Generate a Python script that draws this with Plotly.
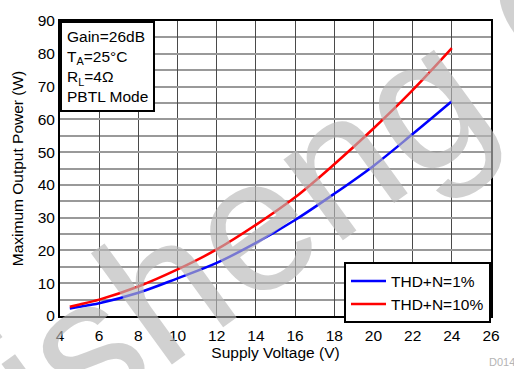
import plotly.graph_objects as go

# Supply voltage (V) and maximum output power (W) for each distortion limit
voltage = [4.5, 5, 6, 8, 10, 12, 14, 16, 18, 20, 22, 24]
power_thd1 = [2.3, 2.8, 3.9, 7.1, 11.5, 16.2, 22.3, 29.3, 37.3, 45.8, 55.5, 65.5]
power_thd10 = [2.8, 3.5, 5.0, 9.0, 14.2, 20.3, 27.8, 36.2, 46.3, 57.2, 68.9, 81.7]

x_ticks = [4, 6, 8, 10, 12, 14, 16, 18, 20, 22, 24, 26]
y_ticks = [0, 10, 20, 30, 40, 50, 60, 70, 80, 90]

FONT = "Liberation Sans, Arial, sans-serif"

fig = go.Figure()
fig.add_trace(go.Scatter(x=voltage, y=power_thd1, mode="lines", name="THD+N=1%",
                         line=dict(color="#0000ff", width=2.5, shape="spline")))
fig.add_trace(go.Scatter(x=voltage, y=power_thd10, mode="lines", name="THD+N=10%",
                         line=dict(color="#ff0000", width=2.5, shape="spline")))

fig.update_layout(
    width=514, height=369,
    margin=dict(l=60, r=23, t=13, b=53),
    paper_bgcolor="white", plot_bgcolor="white",
    font=dict(family=FONT, size=15, color="black"),
    showlegend=True,
    legend=dict(x=1, y=-0.025, xanchor="right", yanchor="bottom",
                bgcolor="white", bordercolor="black", borderwidth=2,
                font=dict(size=15.5), tracegroupgap=0, itemwidth=35),
    xaxis=dict(range=[4, 26], tickvals=x_ticks, showgrid=True,
               gridcolor="#4a4a4a", gridwidth=1,
               showline=True, linecolor="black", linewidth=2, mirror=True,
               zeroline=False, ticks="", ticklabelstandoff=4,
               tickfont=dict(size=15.5),
               title=dict(text="Supply Voltage (V)", standoff=2,
                          font=dict(size=15.5))),
    yaxis=dict(range=[0, 90], tickvals=y_ticks, showgrid=True,
               gridcolor="#999999", gridwidth=1.5,
               minor=dict(dtick=5, showgrid=True, gridcolor="#999999", gridwidth=1.5),
               showline=True, linecolor="black", linewidth=2, mirror=True,
               zeroline=False, ticks="", tickfont=dict(size=15.5),
               title=dict(text="Maximum Output Power (W)", standoff=10,
                          font=dict(size=15.5))),
)

# Test-condition box in the upper-left corner
fig.add_annotation(
    xref="paper", yref="paper", x=0, y=1, xanchor="left", yanchor="top",
    align="left", showarrow=False,
    text="Gain=26dB<br>T<sub>A</sub>=25°C<br>R<sub>L</sub>=4Ω<br>PBTL Mode",
    font=dict(size=15.5), bgcolor="white", bordercolor="black", borderwidth=2,
    borderpad=5,
)

# Figure ID
fig.add_annotation(
    xref="paper", yref="paper", x=0.991, y=-0.13, xanchor="left", yanchor="top",
    showarrow=False, text="D014", font=dict(size=11, color="#b4b4b4"),
)

# Diagonal watermark
fig.add_annotation(
    xref="paper", yref="paper", x=0.492, y=0.36, xanchor="center", yanchor="middle",
    showarrow=False, text="nisheng C", textangle=-36,
    font=dict(size=190, color="rgba(185,185,185,0.65)", family=FONT),
)

fig.write_html("out.html")
